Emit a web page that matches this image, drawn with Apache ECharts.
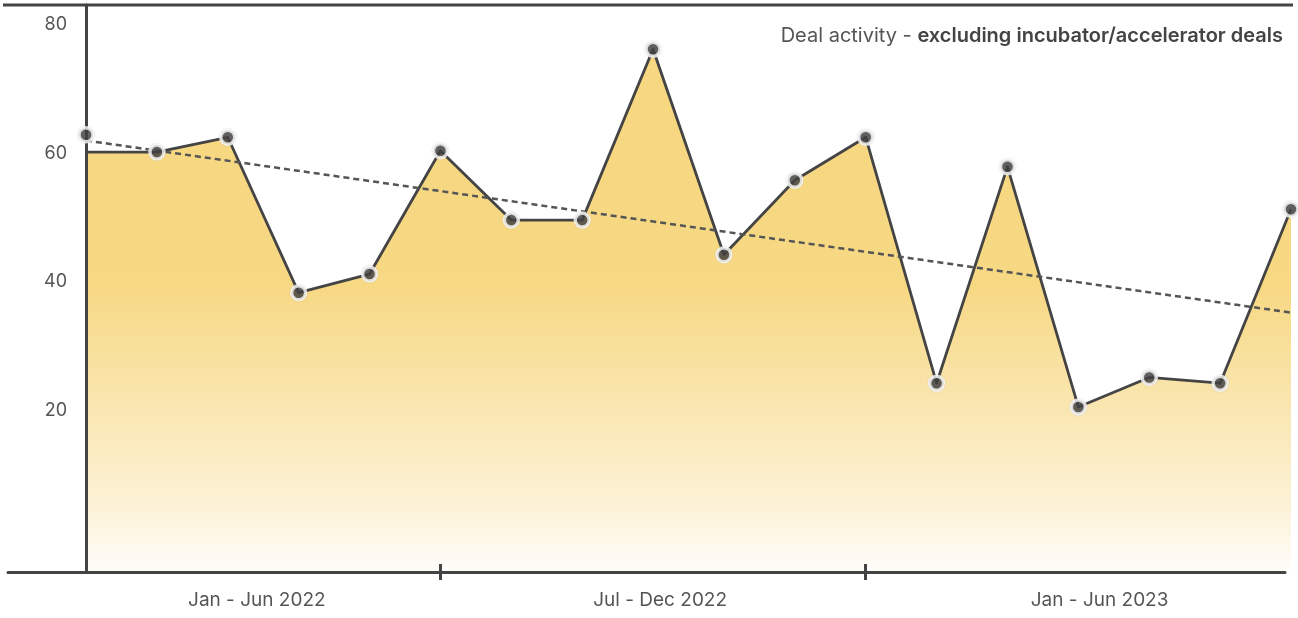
<!DOCTYPE html>
<html>
<head>
<meta charset="utf-8">
<style>
  html, body { margin: 0; padding: 0; background: #ffffff; }
  #chart { width: 1298px; height: 618px; }
</style>
<script src="https://cdn.jsdelivr.net/npm/echarts@6/dist/echarts.min.js"></script>
</head>
<body>
<div id="chart"></div>
<script>
// Monthly deal counts, Jan 2022 .. Jun 2023 (month index 0..17)
const months = ['Jan 2022', 'Feb 2022', 'Mar 2022', 'Apr 2022', 'May 2022', 'Jun 2022',
                'Jul 2022', 'Aug 2022', 'Sep 2022', 'Oct 2022', 'Nov 2022', 'Dec 2022',
                'Jan 2023', 'Feb 2023', 'Mar 2023', 'Apr 2023', 'May 2023', 'Jun 2023'];
// values traced by the filled line
const areaValues = [60.2, 60.2, 62.5, 38.3, 41.2, 60.4, 49.6, 49.6, 76.2, 44.2, 55.8, 62.5, 24.2, 57.9, 20.5, 25.1, 24.2, 51.3];
// values shown by the round markers
const markerValues = [62.9, 60.2, 62.5, 38.3, 41.2, 60.4, 49.6, 49.6, 76.2, 44.2, 55.8, 62.5, 24.2, 57.9, 20.5, 25.1, 24.2, 51.3];
// linear trend, first and last month
const trendValues = [62.0, 35.2];
// half-year periods along the bottom axis
const periods = ['Jan - Jun 2022', 'Jul - Dec 2022', 'Jan - Jun 2023'];
const periodBreaks = [5, 11];           // month index where a period ends
const yTickLabels = [20, 40, 60, 80];

// value range of the plot
const Y_MIN = -5.2, Y_MAX = 83.1;
// the period axis runs a little wider than the plot, in month-index units
const X_MIN = -1.1004, X_MAX = 16.916;
const PERIOD_LABEL_AT = [2.41, 8.1, 14.3];

const INK = '#444444';
const TEXT = '#555555';
const FONT = 'Inter, "Noto Sans", sans-serif';

const chart = echarts.init(document.getElementById('chart'), null, { renderer: 'canvas' });

const idx = months.map((m, i) => i);
const lastIdx = idx[idx.length - 1];

const baseX = {
  type: 'value',
  gridIndex: 1,
  min: X_MIN,
  max: X_MAX,
  position: 'bottom',
  splitLine: { show: false },
  z: 5
};

chart.setOption({
  backgroundColor: '#ffffff',
  animation: false,
  title: {
    text: '{a|Deal activity - }{b|excluding incubator/accelerator deals}',
    right: 10,
    top: 21,
    textStyle: {
      rich: {
        a: { fontFamily: FONT, fontSize: 20, fontWeight: 400, color: TEXT },
        b: { fontFamily: FONT, fontSize: 20, fontWeight: 600, color: INK }
      }
    }
  },
  graphic: [{
    type: 'line',
    shape: { x1: 3, y1: 5, x2: 1293, y2: 5 },
    style: { stroke: INK, lineWidth: 3 },
    silent: true
  }],
  grid: [
    // plot area
    { left: 86, right: 7, top: 5, bottom: 46, containLabel: false, outerBoundsMode: 'none' },
    // period axis along the bottom
    { left: 8, right: 13, top: 5, bottom: 46, containLabel: false, outerBoundsMode: 'none' }
  ],
  xAxis: [{
    type: 'value',
    gridIndex: 0,
    min: 0,
    max: lastIdx,
    show: false
  }, Object.assign({}, baseX, {
    axisLine: { show: true, onZero: false, lineStyle: { color: INK, width: 3 } },
    axisTick: { show: true, inside: true, length: 8, customValues: periodBreaks,
                lineStyle: { color: INK, width: 3 } },
    axisLabel: {
      show: true,
      customValues: PERIOD_LABEL_AT,
      formatter: (v) => periods[PERIOD_LABEL_AT.indexOf(v)] || '',
      margin: 19,
      fontFamily: FONT,
      fontSize: 19,
      color: TEXT
    }
  }), Object.assign({}, baseX, {
    axisLine: { show: false, onZero: false },
    axisTick: { show: true, inside: false, length: 8, customValues: periodBreaks,
                lineStyle: { color: INK, width: 3 } },
    axisLabel: { show: false }
  })],
  yAxis: [{
    type: 'value',
    gridIndex: 0,
    min: Y_MIN,
    max: Y_MAX,
    z: 5,
    axisLine: { show: true, onZero: false, lineStyle: { color: INK, width: 3 } },
    axisTick: { show: false },
    axisLabel: {
      customValues: yTickLabels,
      margin: 19,
      fontFamily: FONT,
      fontSize: 18,
      color: TEXT
    },
    splitLine: { show: false }
  }, {
    type: 'value',
    gridIndex: 1,
    min: Y_MIN,
    max: Y_MAX,
    show: false
  }],
  series: [{
    name: 'Deals',
    type: 'line',
    xAxisIndex: 0,
    yAxisIndex: 0,
    data: idx.map((i) => [i, areaValues[i]]),
    clip: false,
    showSymbol: false,
    symbol: 'none',
    lineStyle: { color: INK, width: 2.8, join: 'round' },
    areaStyle: {
      origin: 'start',
      opacity: 1,
      color: new echarts.graphic.LinearGradient(0, 0, 0, 1, [
        { offset: 0, color: 'rgb(247,215,128)' },
        { offset: 0.45, color: 'rgb(247,216,131)' },
        { offset: 0.67, color: 'rgb(249,229,174)' },
        { offset: 0.86, color: 'rgb(252,241,212)' },
        { offset: 1, color: 'rgb(255,253,250)' }
      ])
    },
    z: 2
  }, {
    name: 'Trend',
    type: 'line',
    xAxisIndex: 0,
    yAxisIndex: 0,
    data: [[idx[0], trendValues[0]], [lastIdx, trendValues[1]]],
    clip: false,
    symbol: 'none',
    lineStyle: { color: TEXT, width: 2.5, type: [6, 4] },
    z: 3
  }, {
    name: 'Monthly deals',
    type: 'scatter',
    xAxisIndex: 0,
    yAxisIndex: 0,
    data: idx.map((i) => [i, markerValues[i]]),
    clip: false,
    symbol: 'circle',
    symbolSize: 14,
    itemStyle: {
      color: INK,
      borderColor: '#ffffff',
      borderWidth: 3.5,
      shadowColor: 'rgba(0,0,0,0.22)',
      shadowBlur: 1.2
    },
    z: 6
  }]
});
</script>
</body>
</html>
